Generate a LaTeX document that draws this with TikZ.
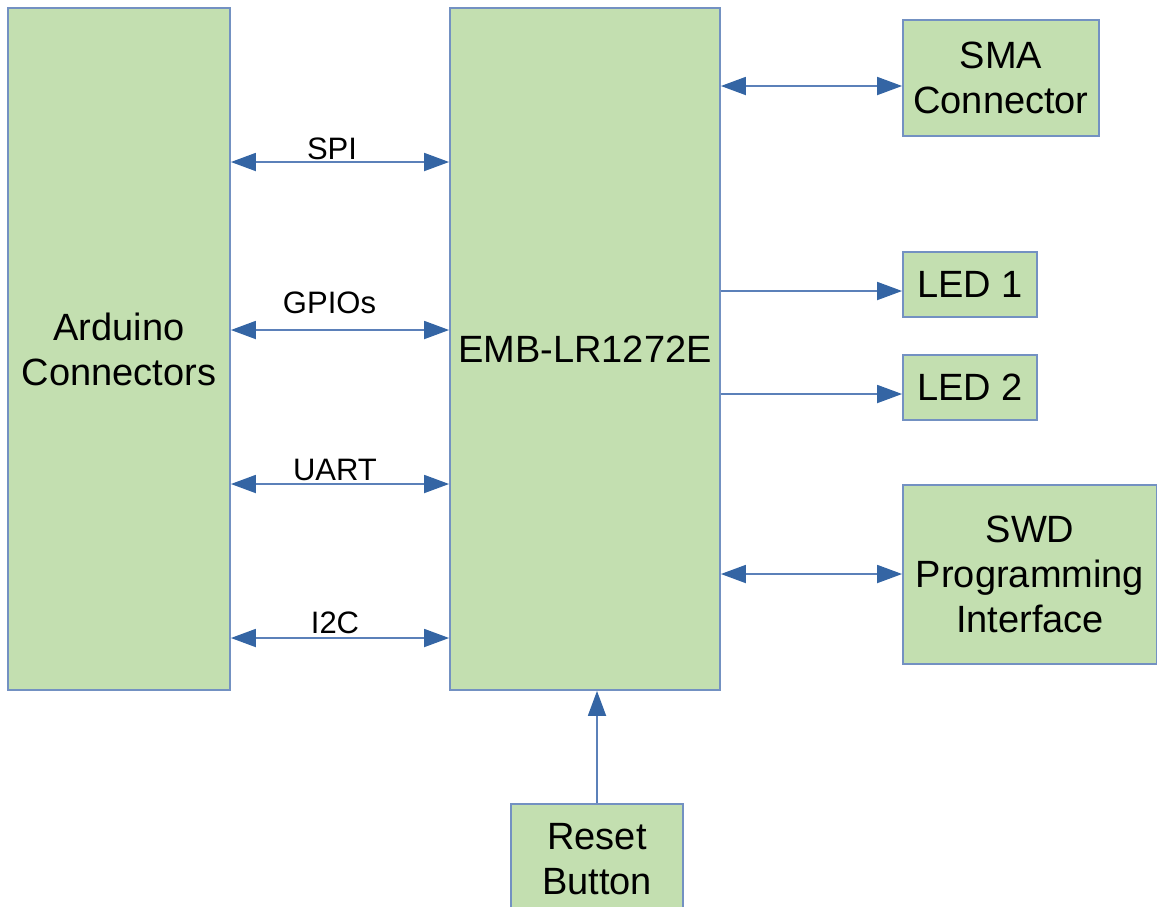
\documentclass[tikz,border=0pt]{standalone}
\usepackage{fontspec}
\setmainfont{Liberation Sans}
\usetikzlibrary{arrows.meta}
\definecolor{boxfill}{HTML}{C3DFB0}
\definecolor{boxline}{HTML}{7391C2}
\definecolor{arrline}{HTML}{5B80B9}
\definecolor{arrhead}{HTML}{3465A4}
\tikzset{
  blk/.style={draw=boxline, fill=boxfill, line width=1.8pt, inner sep=0pt,
    font=\fontsize{38}{45}\selectfont, align=center},
  conn/.style={draw=arrline, line width=1.8pt,
    -{Triangle[length=25pt,width=18pt,fill=arrhead,color=arrhead]}},
  bconn/.style={draw=arrline, line width=1.8pt,
    {Triangle[length=25pt,width=18pt,fill=arrhead,color=arrhead]}-{Triangle[length=25pt,width=18pt,fill=arrhead,color=arrhead]}},
  lbl/.style={font=\fontsize{31}{36}\selectfont, anchor=base, inner sep=0pt}
}
\begin{document}
\begin{tikzpicture}[x=1pt,y=-1pt]
\useasboundingbox (0,0) rectangle (1157,906);
% boxes
\node[blk, minimum width=222pt, minimum height=682pt] (ard) at (119,349) {Arduino\\Connectors};
\node[blk, minimum width=270pt, minimum height=682pt] (emb) at (585,349) {EMB-LR1272E};
\node[blk, minimum width=196pt, minimum height=116pt] (sma) at (1001,78) {SMA\\Connector};
\node[blk, minimum width=134pt, minimum height=65pt] (led1) at (970,284.5) {LED 1};
\node[blk, minimum width=134pt, minimum height=65pt] (led2) at (970,387.5) {LED 2};
\node[blk, minimum width=254pt, minimum height=179pt] (swd) at (1030,574.5) {SWD\\Programming\\Interface};
\node[blk, minimum width=172pt, minimum height=110pt] (rst) at (597,859) {Reset\\Button};
% left connectors
\coordinate (a1) at (ard.east |- 0,162);
\coordinate (e1) at (emb.west |- 0,162);
\coordinate (a2) at (ard.east |- 0,330);
\coordinate (e2) at (emb.west |- 0,330);
\coordinate (a3) at (ard.east |- 0,484);
\coordinate (e3) at (emb.west |- 0,484);
\coordinate (a4) at (ard.east |- 0,638);
\coordinate (e4) at (emb.west |- 0,638);
\draw[bconn] (a1) -- (e1);
\draw[bconn] (a2) -- (e2);
\draw[bconn] (a3) -- (e3);
\draw[bconn] (a4) -- (e4);
\node[lbl] (lspi) at (332,159) {SPI};
\node[lbl] (lgpio) at (329.5,313) {GPIOs};
\node[lbl] (luart) at (335,480) {UART};
\node[lbl] (li2c) at (335,633) {I2C};
% right connectors
\coordinate (r1) at (emb.east |- 0,86);
\draw[bconn] (r1) -- (sma.west |- r1);
\coordinate (r2) at (emb.east |- 0,291);
\draw[conn] (r2) -- (led1.west |- r2);
\coordinate (r3) at (emb.east |- 0,394);
\draw[conn] (r3) -- (led2.west |- r3);
\coordinate (r4) at (emb.east |- 0,574);
\draw[bconn] (r4) -- (swd.west |- r4);
% reset
\draw[conn] (rst.north) -- (rst.north |- emb.south);
\end{tikzpicture}
\end{document}
